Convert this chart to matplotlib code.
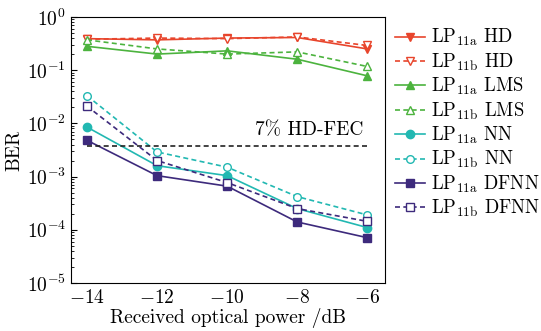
import numpy as np
import matplotlib.pyplot as plt

plt.rcParams['font.family'] = ['cmr10', 'DejaVu Serif']
plt.rcParams['mathtext.fontset'] = 'cm'
plt.rcParams['axes.formatter.use_mathtext'] = True
plt.rcParams['axes.unicode_minus'] = True

power = [-14, -12, -10, -8, -6]

hd_a = [0.39, 0.37, 0.40, 0.41, 0.25]
hd_b = [0.38, 0.40, 0.39, 0.42, 0.29]
lms_a = [0.28, 0.20, 0.23, 0.16, 0.078]
lms_b = [0.37, 0.25, 0.20, 0.22, 0.117]
nn_a = [0.0085, 0.0016, 0.00104, 0.00025, 0.00011]
nn_b = [0.033, 0.0029, 0.0015, 0.00042, 0.00019]
dfnn_a = [0.0048, 0.00104, 0.00066, 0.00014, 0.000071]
dfnn_b = [0.021, 0.0020, 0.00077, 0.00025, 0.000144]
fec = 3.8e-3

red = '#e8452c'
green = '#4cb33e'
cyan = '#22b8b2'
purple = '#3d2a7c'

fig = plt.figure(figsize=(5.41, 3.31), dpi=100)
ax = fig.add_axes([0.131, 0.145, 0.581, 0.804])

series = [
    (hd_a, red, 'v', '-', True, r'LP$_{\rm 11a}$ HD'),
    (hd_b, red, 'v', '--', False, r'LP$_{\rm 11b}$ HD'),
    (lms_a, green, '^', '-', True, r'LP$_{\rm 11a}$ LMS'),
    (lms_b, green, '^', '--', False, r'LP$_{\rm 11b}$ LMS'),
    (nn_a, cyan, 'o', '-', True, r'LP$_{\rm 11a}$ NN'),
    (nn_b, cyan, 'o', '--', False, r'LP$_{\rm 11b}$ NN'),
    (dfnn_a, purple, 's', '-', True, r'LP$_{\rm 11a}$ DFNN'),
    (dfnn_b, purple, 's', '--', False, r'LP$_{\rm 11b}$ DFNN'),
]

for y, c, m, ls, filled, lab in series:
    ax.plot(power, y, color=c, marker=m, linestyle=ls, lw=1.2,
            ms=6 if filled else 5.5,
            markerfacecolor=c if filled else 'white', markeredgecolor=c,
            markeredgewidth=1.0, label=lab, dashes=(3, 2) if ls == '--' else (None, None))

ax.plot([power[0], power[-1]], [fec, fec], color='#222222', lw=1.2, linestyle='--', dashes=(3, 2))
ax.text(-6.1, 7.3e-3, '7% HD-FEC', fontsize=14, ha='right', va='center')

ax.set_yscale('log')
ax.set_ylim(1e-5, 1)
ax.set_xlim(-14.46, -5.49)
ax.set_xticks(power)
ax.set_yticks([1e-5, 1e-4, 1e-3, 1e-2, 1e-1, 1])
ax.tick_params(axis='both', which='both', direction='in', labelsize=14)
ax.tick_params(axis='x', length=0, pad=4)
ax.tick_params(axis='y', which='major', length=4)
ax.tick_params(axis='y', which='minor', length=2)
ax.set_xlabel('Received optical power /dB', fontsize=14, labelpad=1)
ax.set_ylabel('BER', fontsize=14, labelpad=2)

ax.legend(loc='upper left', bbox_to_anchor=(1.02, 0.975), frameon=False, fontsize=13.5,
          handlelength=1.6, handletextpad=0.3, labelspacing=0.17, borderaxespad=0.1,
          borderpad=0.1)

fig.savefig('out.png', dpi=100)
